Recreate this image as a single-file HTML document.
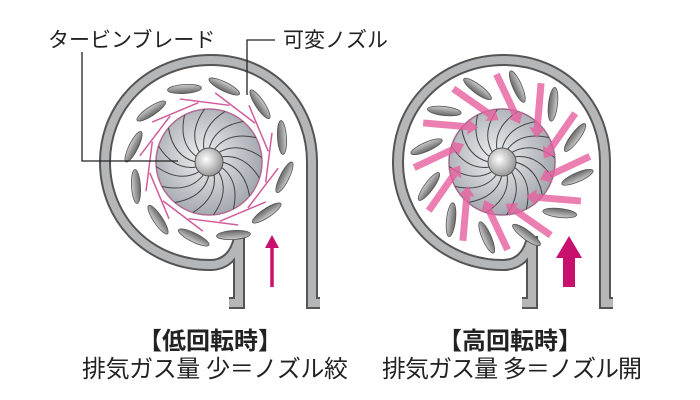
<!DOCTYPE html>
<html><head><meta charset="utf-8"><style>
html,body{margin:0;padding:0;background:#fff;}
svg{display:block;}
text{font-family:"Liberation Sans","Noto Sans CJK JP",sans-serif;fill:#222;}
</style></head><body>
<svg id="s" width="700" height="400" viewBox="0 0 700 400" xmlns="http://www.w3.org/2000/svg">
<defs>
<radialGradient id="wg" cx="0.45" cy="0.45" r="0.6"><stop offset="0" stop-color="#eef0f2"/><stop offset="1" stop-color="#9ea3aa"/></radialGradient>
<radialGradient id="hg" cx="0.4" cy="0.4" r="0.7"><stop offset="0" stop-color="#fff"/><stop offset="1" stop-color="#888"/></radialGradient>
<linearGradient id="ng" x1="0" y1="0" x2="0" y2="1"><stop offset="0" stop-color="#ccc"/><stop offset="1" stop-color="#666"/></linearGradient>
</defs>
<g id="L"></g>
<g id="R" transform="translate(293,0)"></g>
<text x="48" y="47" font-size="21">タービンブレード</text>
<text x="283" y="47" font-size="21">可変ノズル</text>
<polyline points="82,52 82,161 178,161" fill="none" stroke="#222" stroke-width="1.3"/>
<polyline points="275,40 247,40 247,95" fill="none" stroke="#222" stroke-width="1.3"/>
<text x="210" y="349" font-size="24" text-anchor="middle" font-weight="bold">【低回転時】</text>
<text x="82" y="377" font-size="24" textLength="266">排気ガス量 少＝ノズル絞</text>
<text x="510" y="349" font-size="24" text-anchor="middle" font-weight="bold">【高回転時】</text>
<text x="382" y="377" font-size="24" textLength="260">排気ガス量 多＝ノズル開</text>
</svg>
<script>
var NS="http://www.w3.org/2000/svg";
function el(p,t,a){var e=document.createElementNS(NS,t);for(var k in a)e.setAttribute(k,a[k]);p.appendChild(e);return e;}
function build(g,open){
 var cx=209,cy=162;
 var casing="M 239 238 C 235 256 225 265 210 265 C 150 265 105 220 105 162 C 105 105 150 60 211 60 C 270 60 312 105 312 162 L 312 303 L 320 303";
 var leg="M 239 236 L 239 303 L 229 303";
 [casing,leg].forEach(function(d){el(g,"path",{d:d,fill:"none",stroke:"#555","stroke-width":12,"stroke-linejoin":"miter"});});
 [casing,leg].forEach(function(d){el(g,"path",{d:d,fill:"none",stroke:"#b4b6b8","stroke-width":8,"stroke-linejoin":"miter"});});
 // wheel
 el(g,"circle",{cx:cx,cy:cy,r:53,fill:"url(#wg)",stroke:open?"#9a6a88":"#b06a95","stroke-width":1.5});
 for(var i=0;i<16;i++){
  var a=i*Math.PI*2/16;
  var x1=cx+13*Math.cos(a),y1=cy+13*Math.sin(a);
  var x2=cx+53*Math.cos(a+0.7),y2=cy+53*Math.sin(a+0.7);
  var mx=cx+36*Math.cos(a+0.15),my=cy+36*Math.sin(a+0.15);
  el(g,"path",{d:"M"+x1+" "+y1+" Q"+mx+" "+my+" "+x2+" "+y2,fill:"none",stroke:"#444","stroke-width":1});
 }
 el(g,"circle",{cx:cx,cy:cy,r:14,fill:"url(#hg)",stroke:"#555","stroke-width":1});
 // nozzles
 for(var i=0;i<12;i++){
  var a=i*Math.PI*2/12+0.2;
  var r=77;
  var x=cx+r*Math.cos(a),y=cy+r*Math.sin(a);
  var deg=a*180/Math.PI+90+(open?55:15);
  el(g,"ellipse",{cx:x,cy:y,rx:17,ry:4.5,fill:"url(#ng)",stroke:"#555","stroke-width":0.8,transform:"rotate("+deg+" "+x+" "+y+")"});
  if(!open){
   var b=a+0.25;
   var px=cx+60*Math.cos(b),py=cy+60*Math.sin(b);
   var t=b+Math.PI/2+0.2;
   el(g,"line",{x1:px-25*Math.cos(t),y1:py-25*Math.sin(t),x2:px+25*Math.cos(t),y2:py+25*Math.sin(t),stroke:"#d25c9c","stroke-width":1.5});
  } else {
   var b=a+0.26;
   var sx=cx+88*Math.cos(b),sy=cy+88*Math.sin(b);
   var ex=cx+42*Math.cos(b+0.5),ey=cy+42*Math.sin(b+0.5);
   var ang=Math.atan2(ey-sy,ex-sx);
   var hx=ex-10*Math.cos(ang),hy=ey-10*Math.sin(ang);
   el(g,"line",{x1:sx,y1:sy,x2:hx,y2:hy,stroke:"#e8609f","stroke-width":7,opacity:0.8});
   var px=-Math.sin(ang),py=Math.cos(ang);
   el(g,"polygon",{points:ex+","+ey+" "+(hx+8*px)+","+(hy+8*py)+" "+(hx-8*px)+","+(hy-8*py),fill:"#e8609f",opacity:0.8});
  }
 }
 // inlet arrow
 if(!open){
  el(g,"line",{x1:272,y1:287,x2:272,y2:245,stroke:"#c8106e","stroke-width":3.5});
  el(g,"polygon",{points:"272,235 265,248 279,248",fill:"#c8106e"});
 } else {
  el(g,"rect",{x:270,y:256,width:12,height:31,fill:"#c8106e"});
  el(g,"polygon",{points:"276,236 263,258 289,258",fill:"#c8106e"});
 }
}
build(document.getElementById("L"),false);
build(document.getElementById("R"),true);
</script>
</body></html>
